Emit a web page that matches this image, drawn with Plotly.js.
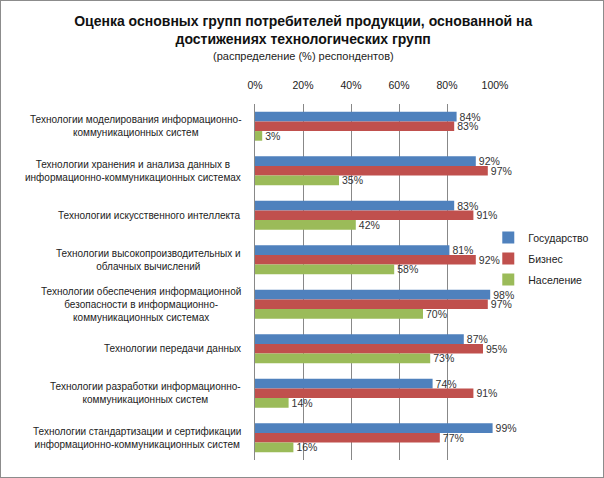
<!DOCTYPE html>
<html>
<head>
<meta charset="utf-8">
<script src="https://cdn.plot.ly/plotly-3.0.1.min.js"></script>
<style>
  body { margin: 0; background: #fff; }
  #chart { width: 602px; height: 476px; border: 1px solid #8c8c8c; }
</style>
</head>
<body>
<div id="chart"></div>
<script>
var categories = [
    'Технологии моделирования информационно-<br>коммуникационных систем',
    'Технологии хранения и анализа данных в<br>информационно-коммуникационных системах',
    'Технологии искусственного интеллекта',
    'Технологии высокопроизводительных и<br>облачных вычислений',
    'Технологии обеспечения информационной<br>безопасности в информационно-<br>коммуникационных системах',
    'Технологии передачи данных',
    'Технологии разработки информационно-<br>коммуникационных систем',
    'Технологии стандартизации и сертификации<br>информационно-коммуникационных систем'
];
var gov = [84, 92, 83, 81, 98, 87, 74, 99];
var biz = [83, 97, 91, 92, 97, 95, 91, 77];
var pop = [3, 35, 42, 58, 70, 73, 14, 16];
var tickVals = [0, 20, 40, 60, 80, 100];

var FONT = 'Liberation Sans, Arial, sans-serif';

function barTrace(name, vals, color) {
    return {
        type: 'bar',
        orientation: 'h',
        name: name,
        legendgroup: name,
        x: vals,
        y: categories,
        marker: { color: color },
        text: vals.map(function (v) { return v + '%'; }),
        textposition: 'outside',
        constraintext: 'none',
        cliponaxis: false,
        textfont: { family: FONT, size: 10.5, color: '#333' },
        hoverinfo: 'x+name'
    };
}

var data = [
    barTrace('Государство', gov, '#4f81bd'),
    barTrace('Бизнес', biz, '#c0504d'),
    barTrace('Население', pop, '#9bbb59')
];

// category labels are centred, so draw them as annotations
var labels = categories.map(function (c) {
    return {
        xref: 'paper', yref: 'y',
        x: -0.05, y: c,
        xanchor: 'right', yanchor: 'middle',
        align: 'center',
        text: c,
        showarrow: false,
        font: { family: FONT, size: 10, color: '#222' }
    };
});

labels.push({
    xref: 'paper', yref: 'paper',
    x: 0.2, y: 1.135,
    xanchor: 'center', yanchor: 'middle',
    text: '(распределение (%) респондентов)',
    showarrow: false,
    font: { family: FONT, size: 11, color: '#222' }
});

var layout = {
    width: 602,
    height: 476,
    margin: { l: 254, r: 108, t: 103, b: 17, autoexpand: false },
    paper_bgcolor: '#fff',
    plot_bgcolor: '#fff',
    font: { family: FONT, color: '#222' },
    title: {
        text: '<b>Оценка основных групп потребителей продукции, основанной на<br>достижениях технологических групп</b>',
        font: { family: FONT, size: 14, color: '#111' },
        x: 0.502, xanchor: 'center',
        y: 0.947, yanchor: 'top',
        yref: 'container'
    },
    barmode: 'group',
    bargap: 0.35,
    bargroupgap: 0,
    xaxis: {
        side: 'top',
        range: [0, 100],
        tickvals: tickVals,
        ticktext: tickVals.map(function (v) { return v + '%'; }),
        ticks: '',
        ticklabelstandoff: 12,
        tickfont: { family: FONT, size: 10.5, color: '#222' },
        showgrid: true,
        gridcolor: '#888',
        gridwidth: 1,
        zeroline: false,
        showline: false,
        fixedrange: true
    },
    yaxis: {
        autorange: 'reversed',
        showticklabels: false,
        ticks: '',
        showgrid: false,
        showline: true,
        linecolor: '#888',
        zeroline: false,
        fixedrange: true
    },
    legend: {
        x: 0.972, xanchor: 'left',
        y: 0.566, yanchor: 'middle',
        traceorder: 'grouped',
        tracegroupgap: 2,
        font: { family: FONT, size: 10.5, color: '#222' },
        bgcolor: 'rgba(0,0,0,0)'
    },
    annotations: labels,
    showlegend: true
};

Plotly.newPlot('chart', data, layout, { displayModeBar: false, staticPlot: true });
</script>
</body>
</html>
